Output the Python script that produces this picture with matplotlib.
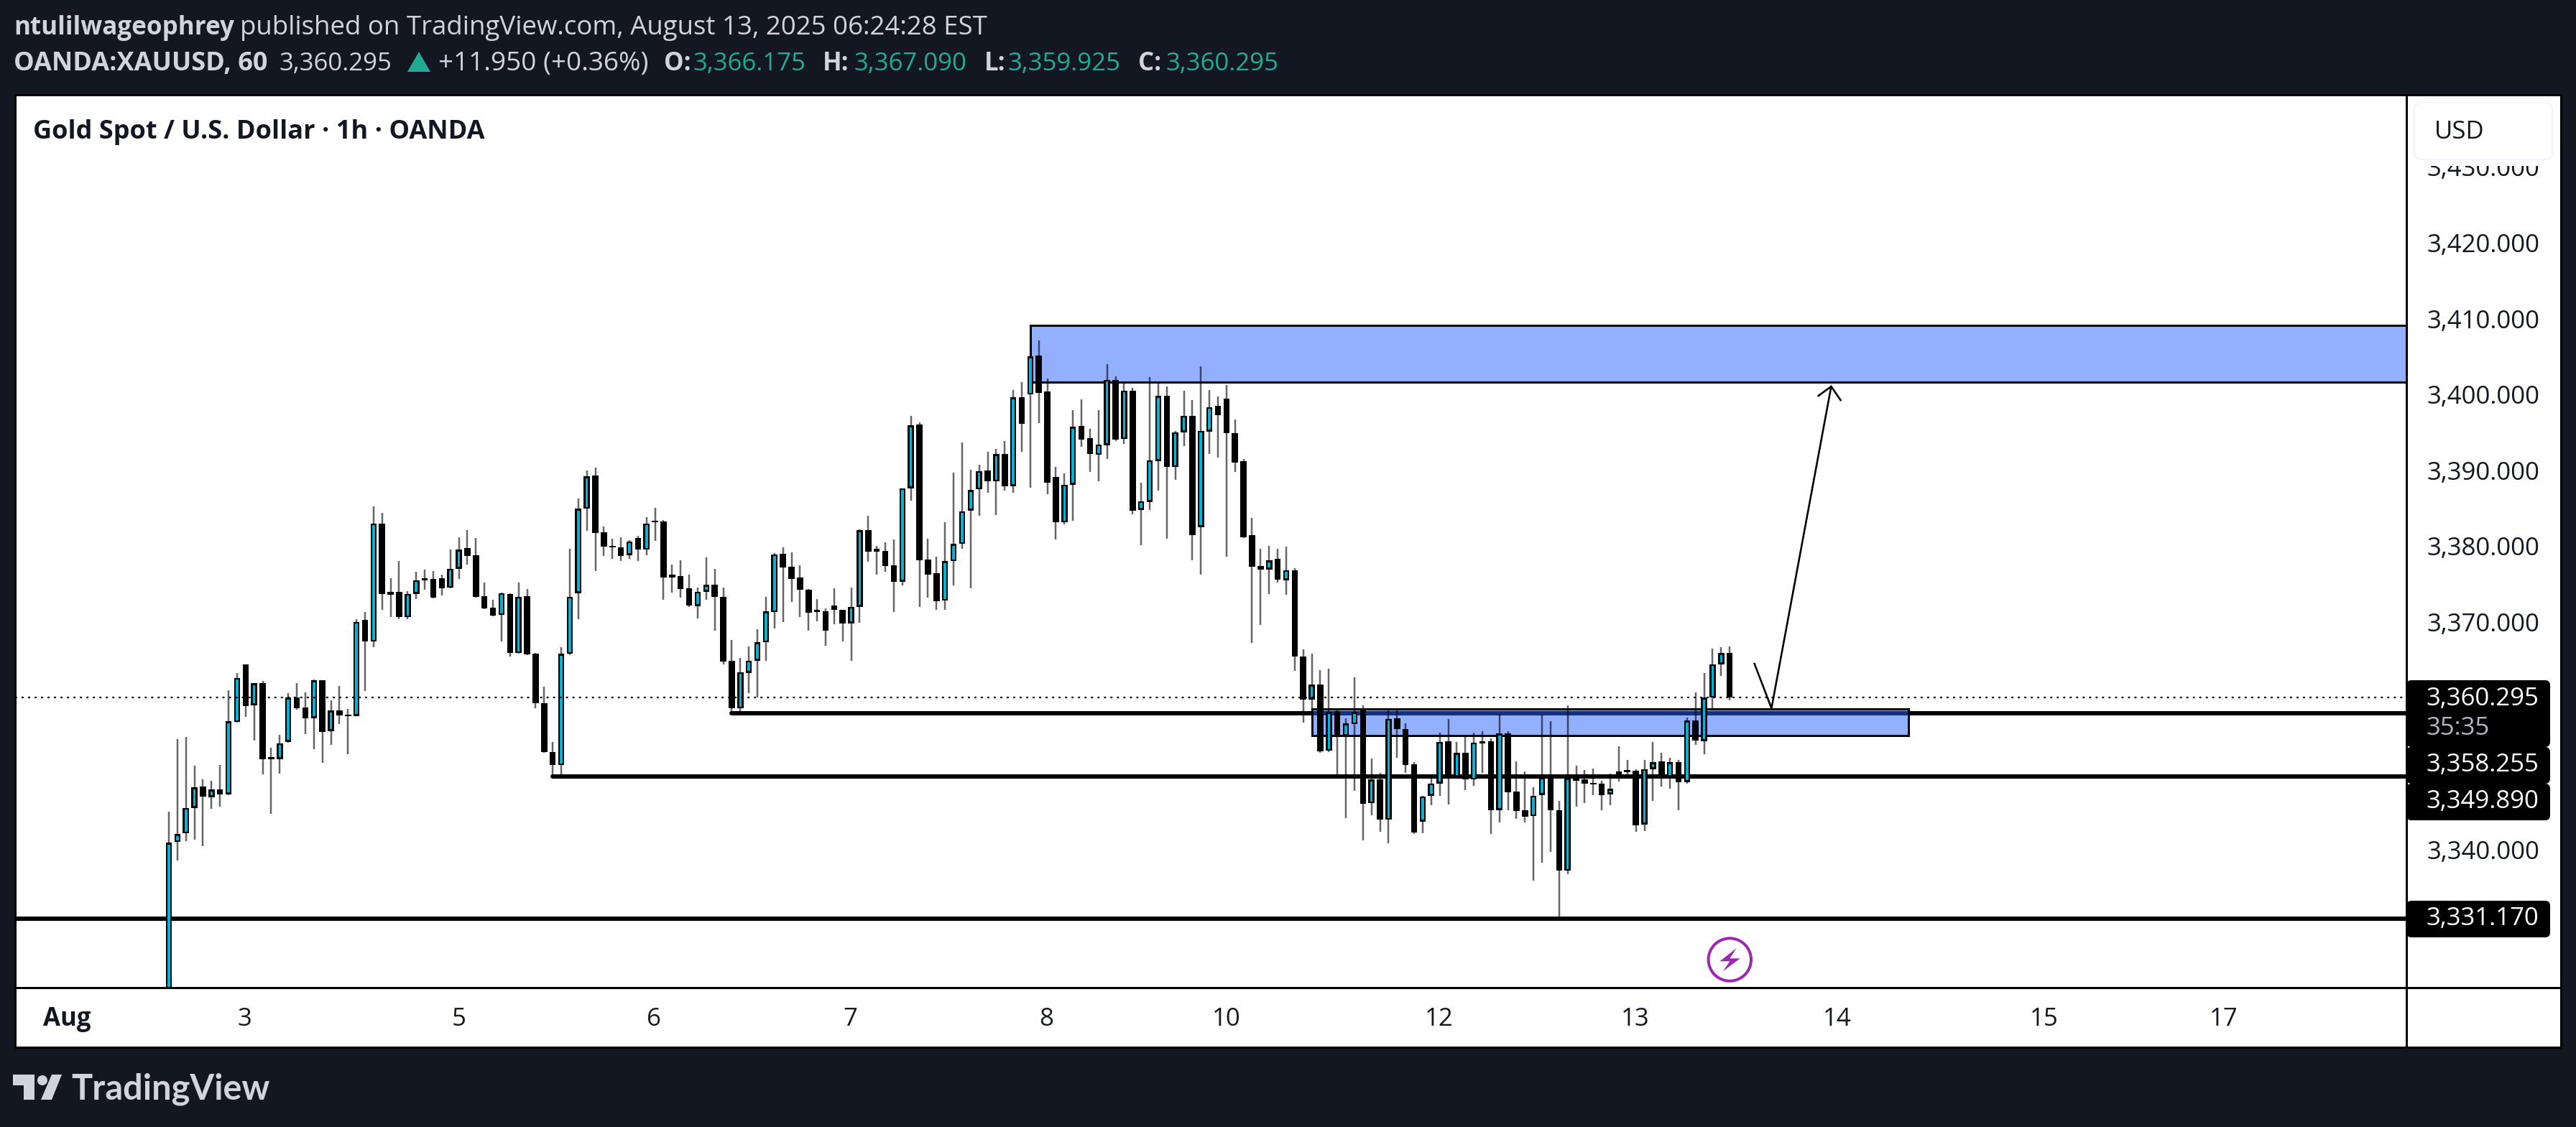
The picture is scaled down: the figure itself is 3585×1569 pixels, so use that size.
import numpy as np
import matplotlib
matplotlib.use("Agg")
import matplotlib.pyplot as plt
from matplotlib.patches import Rectangle, FancyBboxPatch, Circle, Polygon
from matplotlib.transforms import ScaledTranslation

plt.rcParams['font.family'] = ['Open Sans', 'DejaVu Sans']

# hourly XAUUSD candles
opens = [
    3318.0, 3341.3, 3342.4, 3345.8, 3348.6, 3347.2, 3348.2, 3347.6, 3357.1, 3364.7,
    3359.3, 3362.2, 3352.5, 3352.2, 3354.5, 3360.3, 3359.0, 3357.6, 3362.6, 3355.9,
    3358.6, 3358.1, 3357.9, 3370.6, 3367.7, 3383.3, 3374.3, 3374.3, 3370.9, 3374.0,
    3376.1, 3376.0, 3376.1, 3374.8, 3377.3, 3380.0, 3379.1, 3373.7, 3372.2, 3371.2,
    3374.0, 3366.2, 3373.7, 3366.1, 3359.6, 3353.1, 3351.4, 3366.1, 3374.1, 3385.2,
    3389.6, 3382.1, 3380.3, 3380.1, 3379.1, 3381.4, 3379.8, 3383.6, 3383.5, 3376.5,
    3376.3, 3374.7, 3372.4, 3374.3, 3375.2, 3373.6, 3365.2, 3358.9, 3363.6, 3365.2,
    3367.6, 3371.6, 3379.3, 3377.6, 3376.2, 3374.5, 3371.9, 3371.7, 3372.5, 3371.9,
    3370.1, 3372.3, 3382.4, 3379.9, 3379.7, 3377.8, 3375.6, 3387.9, 3396.3, 3378.5,
    3376.7, 3373.1, 3378.3, 3380.6, 3385.0, 3387.8, 3390.3, 3388.8, 3392.4, 3388.2,
    3399.9, 3400.3, 3405.4, 3400.7, 3389.4, 3383.4, 3388.4, 3396.1, 3394.5, 3392.3,
    3393.6, 3402.2, 3394.4, 3400.8, 3385.1, 3386.1, 3391.5, 3400.1, 3390.7, 3395.3,
    3397.5, 3382.8, 3395.4, 3398.8, 3399.7, 3395.2, 3391.5, 3381.7, 3377.7, 3377.2,
    3378.6, 3375.8, 3377.1, 3365.7, 3360.1, 3362.0, 3353.3, 3358.5, 3355.3, 3356.8,
    3358.6, 3346.4, 3349.5, 3344.2, 3357.6, 3356.2, 3351.5, 3344.0, 3347.4, 3349.0,
    3354.6, 3349.9, 3353.0, 3349.5, 3354.6, 3354.6, 3345.5, 3355.6, 3347.9, 3345.5,
    3344.7, 3347.5, 3349.8, 3345.5, 3337.5, 3349.9, 3349.5, 3349.1, 3349.0, 3347.6,
    3350.6, 3350.8, 3350.7, 3343.6, 3350.9, 3351.9, 3349.9, 3351.8, 3349.2, 3357.3,
    3354.6, 3360.3, 3364.7, 3366.175,
]
highs = [
    3345.3, 3354.8, 3355.1, 3351.3, 3349.5, 3349.4, 3351.4, 3361.3, 3363.6, 3364.7,
    3362.2, 3362.5, 3353.7, 3355.4, 3360.9, 3362.2, 3361.0, 3362.7, 3362.6, 3360.0,
    3361.9, 3358.8, 3370.7, 3371.6, 3385.5, 3384.7, 3376.1, 3378.3, 3374.4, 3376.9,
    3377.2, 3377.0, 3376.5, 3379.8, 3381.5, 3382.4, 3381.4, 3375.5, 3373.2, 3374.2,
    3374.1, 3375.5, 3374.6, 3366.2, 3361.8, 3354.5, 3367.0, 3379.9, 3386.6, 3390.3,
    3390.6, 3382.9, 3381.3, 3381.5, 3381.1, 3381.6, 3384.1, 3385.3, 3383.7, 3377.9,
    3378.4, 3376.5, 3374.8, 3378.8, 3377.3, 3374.8, 3367.9, 3365.5, 3367.1, 3369.3,
    3373.6, 3379.4, 3380.1, 3379.5, 3377.8, 3374.6, 3373.3, 3372.1, 3374.7, 3371.9,
    3374.8, 3382.5, 3384.3, 3380.3, 3380.8, 3381.2, 3387.9, 3397.5, 3396.6, 3381.3,
    3378.9, 3383.4, 3390.0, 3394.0, 3390.4, 3391.0, 3392.7, 3393.1, 3394.1, 3400.9,
    3401.9, 3405.4, 3407.4, 3402.4, 3390.7, 3389.9, 3398.2, 3399.6, 3395.8, 3398.2,
    3404.3, 3402.7, 3401.9, 3401.2, 3388.7, 3402.6, 3401.7, 3401.3, 3395.5, 3400.8,
    3399.5, 3404.0, 3400.9, 3400.0, 3401.5, 3397.0, 3391.8, 3384.0, 3379.9, 3380.3,
    3379.9, 3380.2, 3377.4, 3366.7, 3366.1, 3363.9, 3364.1, 3358.7, 3357.6, 3363.0,
    3359.3, 3352.3, 3350.4, 3358.8, 3358.8, 3356.9, 3351.8, 3347.4, 3349.8, 3355.7,
    3357.5, 3354.5, 3355.3, 3355.7, 3355.9, 3354.9, 3358.2, 3355.9, 3351.9, 3350.6,
    3348.5, 3358.1, 3357.2, 3346.7, 3359.3, 3351.3, 3350.8, 3351.0, 3349.4, 3350.3,
    3353.9, 3352.1, 3350.9, 3352.1, 3354.5, 3353.0, 3352.4, 3352.1, 3357.7, 3361.0,
    3363.6, 3366.8, 3367.0, 3367.09,
]
lows = [
    3318.0, 3338.8, 3341.4, 3341.6, 3340.7, 3345.7, 3345.9, 3347.5, 3357.0, 3357.8,
    3354.7, 3350.2, 3345.0, 3350.3, 3354.4, 3358.7, 3355.5, 3353.5, 3351.7, 3354.1,
    3356.8, 3352.9, 3357.9, 3361.2, 3367.0, 3371.9, 3370.9, 3370.7, 3370.7, 3373.3,
    3374.5, 3373.4, 3373.8, 3374.7, 3376.0, 3377.9, 3373.5, 3372.0, 3371.0, 3367.7,
    3365.7, 3366.1, 3365.9, 3358.9, 3353.0, 3350.1, 3350.2, 3365.9, 3370.7, 3382.3,
    3377.0, 3379.0, 3378.6, 3378.3, 3378.6, 3378.3, 3379.1, 3381.0, 3373.2, 3374.2,
    3373.5, 3372.3, 3370.8, 3373.2, 3369.1, 3364.7, 3358.3, 3358.4, 3360.9, 3360.3,
    3365.2, 3369.4, 3370.3, 3372.9, 3370.9, 3369.1, 3370.4, 3367.2, 3370.0, 3367.7,
    3365.2, 3370.2, 3378.2, 3376.5, 3376.9, 3371.6, 3375.1, 3386.3, 3372.3, 3373.5,
    3371.9, 3371.9, 3375.1, 3379.9, 3374.7, 3384.3, 3387.3, 3384.4, 3387.6, 3387.3,
    3392.7, 3388.0, 3396.5, 3387.1, 3381.2, 3383.2, 3383.6, 3393.4, 3390.1, 3388.8,
    3391.8, 3394.1, 3393.8, 3384.5, 3380.4, 3385.1, 3387.6, 3381.3, 3389.0, 3393.5,
    3378.4, 3376.5, 3392.4, 3392.0, 3378.9, 3390.1, 3381.4, 3367.5, 3369.9, 3374.0,
    3375.5, 3373.9, 3363.8, 3357.0, 3358.5, 3353.0, 3353.1, 3350.2, 3344.4, 3348.0,
    3341.5, 3344.8, 3342.6, 3341.1, 3352.4, 3350.4, 3342.3, 3342.4, 3346.1, 3347.4,
    3346.2, 3349.8, 3348.1, 3348.7, 3350.4, 3342.3, 3343.9, 3345.5, 3344.3, 3343.9,
    3336.2, 3338.6, 3340.0, 3331.4, 3337.0, 3345.9, 3346.4, 3347.5, 3345.5, 3346.1,
    3349.3, 3350.0, 3342.6, 3342.7, 3346.7, 3348.6, 3348.3, 3345.5, 3349.0, 3354.1,
    3352.9, 3358.7, 3363.2, 3359.925,
]
closes = [
    3341.2, 3342.3, 3345.8, 3348.5, 3347.3, 3348.2, 3347.6, 3357.2, 3362.9, 3359.2,
    3362.2, 3352.2, 3352.2, 3354.3, 3360.3, 3358.9, 3357.6, 3362.6, 3355.8, 3358.6,
    3358.0, 3357.9, 3370.3, 3367.7, 3383.3, 3374.0, 3373.9, 3370.9, 3374.0, 3375.8,
    3375.8, 3373.5, 3374.7, 3377.3, 3379.8, 3379.0, 3373.6, 3372.1, 3371.1, 3374.1,
    3366.2, 3373.6, 3366.0, 3359.6, 3353.1, 3351.4, 3366.1, 3373.6, 3385.2, 3389.5,
    3382.0, 3380.2, 3380.1, 3379.0, 3380.9, 3379.8, 3383.3, 3383.4, 3376.2, 3376.2,
    3374.6, 3372.5, 3374.3, 3375.2, 3373.6, 3365.1, 3358.9, 3363.7, 3365.2, 3367.6,
    3371.7, 3379.2, 3377.5, 3376.0, 3374.5, 3371.5, 3371.6, 3369.1, 3371.9, 3370.1,
    3372.3, 3382.4, 3379.6, 3379.6, 3377.7, 3375.6, 3387.9, 3396.2, 3378.4, 3376.5,
    3373.0, 3378.3, 3380.6, 3384.9, 3387.7, 3390.2, 3388.8, 3392.4, 3388.2, 3399.9,
    3396.4, 3405.3, 3400.5, 3388.7, 3383.4, 3388.4, 3396.0, 3394.3, 3392.4, 3393.7,
    3402.2, 3394.3, 3400.8, 3385.0, 3386.2, 3391.6, 3400.1, 3390.7, 3395.3, 3397.5,
    3381.7, 3395.5, 3398.6, 3397.6, 3395.2, 3391.3, 3381.5, 3377.6, 3377.2, 3378.4,
    3375.9, 3377.1, 3365.7, 3360.1, 3362.0, 3353.2, 3358.4, 3355.3, 3356.9, 3358.4,
    3346.3, 3349.5, 3344.2, 3357.5, 3356.2, 3351.4, 3342.5, 3347.3, 3349.0, 3354.5,
    3349.8, 3353.0, 3349.5, 3354.4, 3354.3, 3345.5, 3355.6, 3347.8, 3345.4, 3344.6,
    3347.4, 3349.8, 3345.5, 3337.5, 3349.7, 3349.4, 3349.0, 3348.9, 3347.5, 3348.3,
    3350.0, 3350.5, 3343.5, 3350.9, 3351.8, 3350.0, 3351.8, 3349.2, 3357.3, 3354.7,
    3360.3, 3364.7, 3366.2, 3360.295,
]

# drawing tools on the chart
last_price = 3360.295
line_prices = [3358.255, 3349.89, 3331.17]
line_starts = [66, 45, None]
zone_top = [3409.35, 3358.85]
zone_bottom = [3401.9, 3355.32]
zone_left = [101, 134]
zone_right = [None, 204]
path_x = [185.9, 187.9, 194.9]
path_y = [3364.79, 3358.92, 3401.34]
head_x = [193.4, 194.9, 196.0]
head_y = [3400.11, 3401.34, 3399.54]

# axis labels
price_ticks = [3340, 3370, 3380, 3390, 3400, 3410, 3420, 3430]
day_ticks = [-11.9, 8.9, 34.0, 56.9, 79.9, 102.9, 124.0, 148.9, 171.9, 195.6, 219.9, 240.9]
day_labels = ["Aug", "3", "5", "6", "7", "8", "10", "12", "13", "14", "15", "17"]
tag_labels = ["3,360.295", "3,358.255", "3,349.890", "3,331.170"]

W, H = 3585, 1569
BG = "#131722"
LIGHT = "#d1d4dc"
TEAL = "#22ab94"
CYAN = "#00b4d8"
PANEL = (21, 132, 3564, 1458)
PLOT_R, PLOT_B = 3349, 1375
PX_PER_BAR = 11.87
PX_PER_USD = 10.56
PT = 72 / 100  # points per pixel at dpi 100


def px_axes(fig, zorder):
    a = fig.add_axes([0, 0, 1, 1], zorder=zorder)
    a.set_xlim(0, W)
    a.set_ylim(H, 0)
    a.axis("off")
    return a


def draw_runs(a, y, runs):
    for x, s, color, weight, size in runs:
        a.text(x, y, s, color=color, fontsize=size, fontweight=weight, va="center", ha="left")


def draw_candles(ax):
    x = np.arange(len(closes))
    o, h, l, c = map(np.array, (opens, highs, lows, closes))
    ax.vlines(x, l, h, color="black", alpha=0.6, lw=2.5 * PT, capstyle="butt", zorder=3)
    top = np.maximum(o, c)
    bot = np.minimum(o, c)
    ax.bar(x, top - bot, bottom=bot, width=0.72, color="black", lw=0, zorder=3.1)
    up = c > o
    inset = 2.5 / PX_PER_USD
    inner = np.clip(c[up] - o[up] - 2 * inset, 0, None)
    ax.bar(x[up], inner, bottom=o[up] + inset, width=0.3, color=CYAN, lw=0, zorder=3.2)


def draw_tools(ax, x_right, x_left):
    for price, start in zip(line_prices, line_starts):
        ax.hlines(price, x_left if start is None else start, x_right, color="black",
                  lw=6 * PT, capstyle="round", zorder=1)
    for top, bot, left, right in zip(zone_top, zone_bottom, zone_left, zone_right):
        right = x_right + 5 if right is None else right
        ax.add_patch(Rectangle((left, bot), right - left, top - bot, fc=(0.16, 0.384, 1, 0.5),
                               ec="black", lw=3 * PT, zorder=2))
    ax.axhline(last_price, color="black", lw=2.2 * PT, linestyle=(0, (1.3, 2.8)), zorder=4)
    ax.plot(path_x, path_y, color="black", lw=2.6 * PT, zorder=4, solid_joinstyle="miter")
    ax.plot(head_x, head_y, color="black", lw=2.6 * PT, zorder=4)


def draw_overlay(a):
    # price scale header hides the top tick, price tags hide the rest
    a.add_patch(Rectangle((3352, 134), 210, 97, fc="white", lw=0))
    a.add_patch(FancyBboxPatch((3360, 143), 192, 79, boxstyle="round,pad=0,rounding_size=10",
                               fc="white", ec="#f0f3fa", lw=1.5))
    a.text(3388, 184, "USD", fontsize=25, color=BG, va="center", ha="left")
    a.add_patch(FancyBboxPatch((3349, 947), 200, 93, boxstyle="round,pad=0,rounding_size=7", fc="black", lw=0))
    a.add_patch(FancyBboxPatch((3349, 1040), 200, 51, boxstyle="round,pad=0,rounding_size=7", fc="black", lw=0))
    a.add_patch(FancyBboxPatch((3349, 1091), 200, 51, boxstyle="round,pad=0,rounding_size=7", fc="black", lw=0))
    a.add_patch(FancyBboxPatch((3349, 1254), 200, 51, boxstyle="round,pad=0,rounding_size=7", fc="black", lw=0))
    for y, s in zip([973, 1065, 1116, 1279], tag_labels):
        a.text(3376, y, s, fontsize=25, color="white", va="center", ha="left")
    a.text(3376, 1014, "35:35", fontsize=25, color="#b2b5be", va="center", ha="left")

    # separators on top of everything in the chart
    a.plot([PLOT_R, PLOT_R], [PANEL[1], PANEL[3]], color="black", lw=3 * PT, solid_capstyle="butt")
    a.plot([PANEL[0], PANEL[2]], [PLOT_B, PLOT_B], color="black", lw=3 * PT, solid_capstyle="butt")

    # alert icon under the last candle
    a.add_patch(Circle((2407.3, 1336), 29.7, fc="none", ec="#9c27b0", lw=4 * PT))
    a.add_patch(Polygon([(2416.7, 1320), (2393.3, 1338.3), (2407.3, 1338.3), (2397.7, 1352.3),
                         (2421.7, 1334.3), (2407.3, 1334.3)], closed=True, fc="#9c27b0", lw=0))

    # header
    draw_runs(a, 39, [(19, "ntulilwageophrey", LIGHT, "bold", 25.2),
                      (334, "published on TradingView.com, August 13, 2025 06:24:28 EST", LIGHT, "normal", 26.4)])
    draw_runs(a, 89, [(19, "OANDA:XAUUSD, 60", LIGHT, "bold", 26),
                      (388, "3,360.295", LIGHT, "normal", 25),
                      (610, "+11.950 (+0.36%)", LIGHT, "normal", 26.6),
                      (924, "O:", LIGHT, "bold", 25), (964, "3,366.175", TEAL, "normal", 25),
                      (1145, "H:", LIGHT, "bold", 25), (1188, "3,367.090", TEAL, "normal", 25),
                      (1370, "L:", LIGHT, "bold", 25), (1402, "3,359.925", TEAL, "normal", 25),
                      (1584, "C:", LIGHT, "bold", 25), (1622, "3,360.295", TEAL, "normal", 25)])
    a.add_patch(Polygon([(583, 72), (567, 100), (599, 100)], closed=True, fc=TEAL, lw=0))
    a.text(46, 184, "Gold Spot / U.S. Dollar · 1h · OANDA", fontsize=26, fontweight="bold",
           color=BG, va="center", ha="left")

    # logo
    a.add_patch(Polygon([(18, 1496), (48, 1496), (48, 1531), (33, 1531), (33, 1511), (18, 1511)],
                        closed=True, fc=LIGHT, lw=0))
    a.add_patch(Circle((59, 1504), 7, fc=LIGHT, lw=0))
    a.add_patch(Polygon([(72, 1496), (86, 1496), (72, 1531), (57, 1531)], closed=True, fc=LIGHT, lw=0))
    a.text(99, 1516, "TradingView", fontsize=35, fontweight="bold", color=LIGHT,
           family=["Lato", "DejaVu Sans"], va="center", ha="left")


def main():
    fig = plt.figure(figsize=(W / 100, H / 100), dpi=100, facecolor=BG)

    under = px_axes(fig, 0)
    x0, y0, x1, y1 = PANEL
    under.add_patch(Rectangle((x0, y0), x1 - x0, y1 - y0, fc="white", ec="black", lw=3 * PT))

    ax = fig.add_axes([x0 / W, 1 - PLOT_B / H, (PLOT_R - x0) / W, (PLOT_B - y0) / H], zorder=2)
    ax.patch.set_alpha(0)
    x_left = (x0 - 235) / PX_PER_BAR
    x_right = (PLOT_R - 235) / PX_PER_BAR
    ax.set_xlim(x_left, x_right)
    ax.set_ylim(3358.255 - (PLOT_B - 993) / PX_PER_USD, 3358.255 + (993 - y0) / PX_PER_USD)
    for s in ax.spines.values():
        s.set_visible(False)

    draw_tools(ax, x_right, x_left)
    draw_candles(ax)

    ax.yaxis.tick_right()
    ax.set_yticks(price_ticks)
    ax.set_yticklabels([f"{p:,.3f}" for p in price_ticks])
    ax.tick_params(axis="y", length=0, pad=28 * PT, labelsize=25, labelcolor=BG)
    up_shift = ScaledTranslation(0, 3 / 100, fig.dpi_scale_trans)
    for t in ax.get_yticklabels():
        t.set_transform(t.get_transform() + up_shift)
    ax.set_xticks(day_ticks)
    ax.set_xticklabels(day_labels)
    ax.tick_params(axis="x", length=0, pad=44 * PT, labelsize=25, labelcolor=BG)
    for t in ax.get_xticklabels():
        t.set_verticalalignment("center")
    ax.get_xticklabels()[0].set_fontweight("bold")

    over = px_axes(fig, 5)
    over.patch.set_alpha(0)
    draw_overlay(over)

    fig.savefig("out.png", dpi=100, facecolor=BG)


if __name__ == "__main__":
    main()
